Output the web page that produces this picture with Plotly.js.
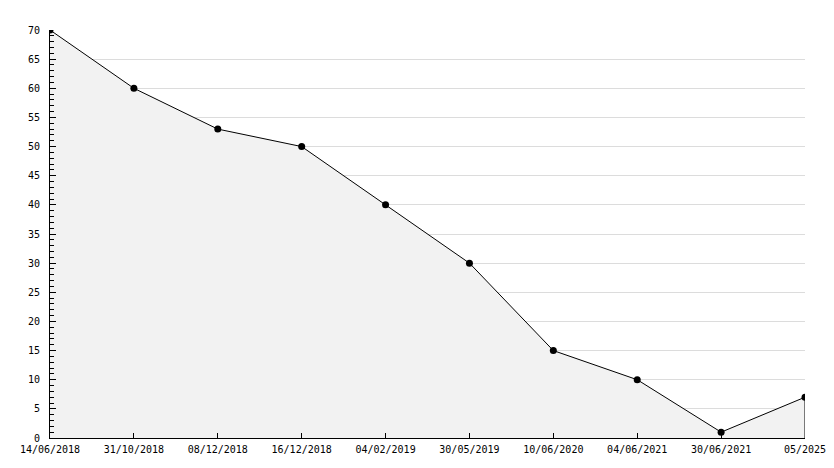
<!DOCTYPE html>
<html>
<head>
<meta charset="utf-8">
<script src="https://cdn.plot.ly/plotly-3.0.1.min.js"></script>
<style>html,body{margin:0;padding:0;background:#fff;}#chart{width:834px;height:468px;}</style>
</head>
<body>
<div id="chart"></div>
<script>
const categories = ["14/06/2018","31/10/2018","08/12/2018","16/12/2018","04/02/2019","30/05/2019","10/06/2020","04/06/2021","30/06/2021","05/2025"];
const values = [70, 60, 53, 50, 40, 30, 15, 10, 1, 7];
const yTicks = [0,5,10,15,20,25,30,35,40,45,50,55,60,65,70];

const font = {family: "DejaVu Sans Mono, monospace", size: 10, color: "#000"};
const lastIdx = categories.length - 1;

const trace = {
  x: categories,
  y: values,
  type: "scatter",
  mode: "lines+markers",
  fill: "tozeroy",
  fillcolor: "#f2f2f2",
  line: {color: "#000", width: 1},
  marker: {color: "#000", size: 7, symbol: "circle"},
  hoverinfo: "x+y"
};

const layout = {
  width: 834, height: 468,
  margin: {l: 50, r: 29, t: 30, b: 30},
  paper_bgcolor: "#fff",
  plot_bgcolor: "#fff",
  showlegend: false,
  font: font,
  xaxis: {
    type: "category",
    range: [0, lastIdx],
    showgrid: false,
    zeroline: false,
    showline: true,
    linecolor: "#000",
    linewidth: 1,
    ticks: "inside",
    ticklen: 5,
    tickcolor: "#000",
    tickfont: font,
    ticklabelstandoff: 2,
    fixedrange: true
  },
  yaxis: {
    range: [0, 70],
    tickvals: yTicks,
    showgrid: true,
    gridcolor: "#dcdcdc",
    gridwidth: 1,
    zeroline: false,
    showline: true,
    linecolor: "#000",
    linewidth: 1,
    ticks: "inside",
    ticklen: 6,
    tickcolor: "#000",
    tickfont: font,
    ticklabelstandoff: 7,
    minor: {dtick: 1, ticks: "inside", ticklen: 4, tickcolor: "#000", showgrid: false},
    fixedrange: true
  },
  shapes: [{
    type: "line", xref: "x", yref: "y",
    x0: categories[lastIdx], x1: categories[lastIdx],
    y0: 0, y1: values[lastIdx],
    line: {color: "#000", width: 1}
  }]
};

Plotly.newPlot("chart", [trace], layout, {displayModeBar: false, staticPlot: true});
</script>
</body>
</html>
